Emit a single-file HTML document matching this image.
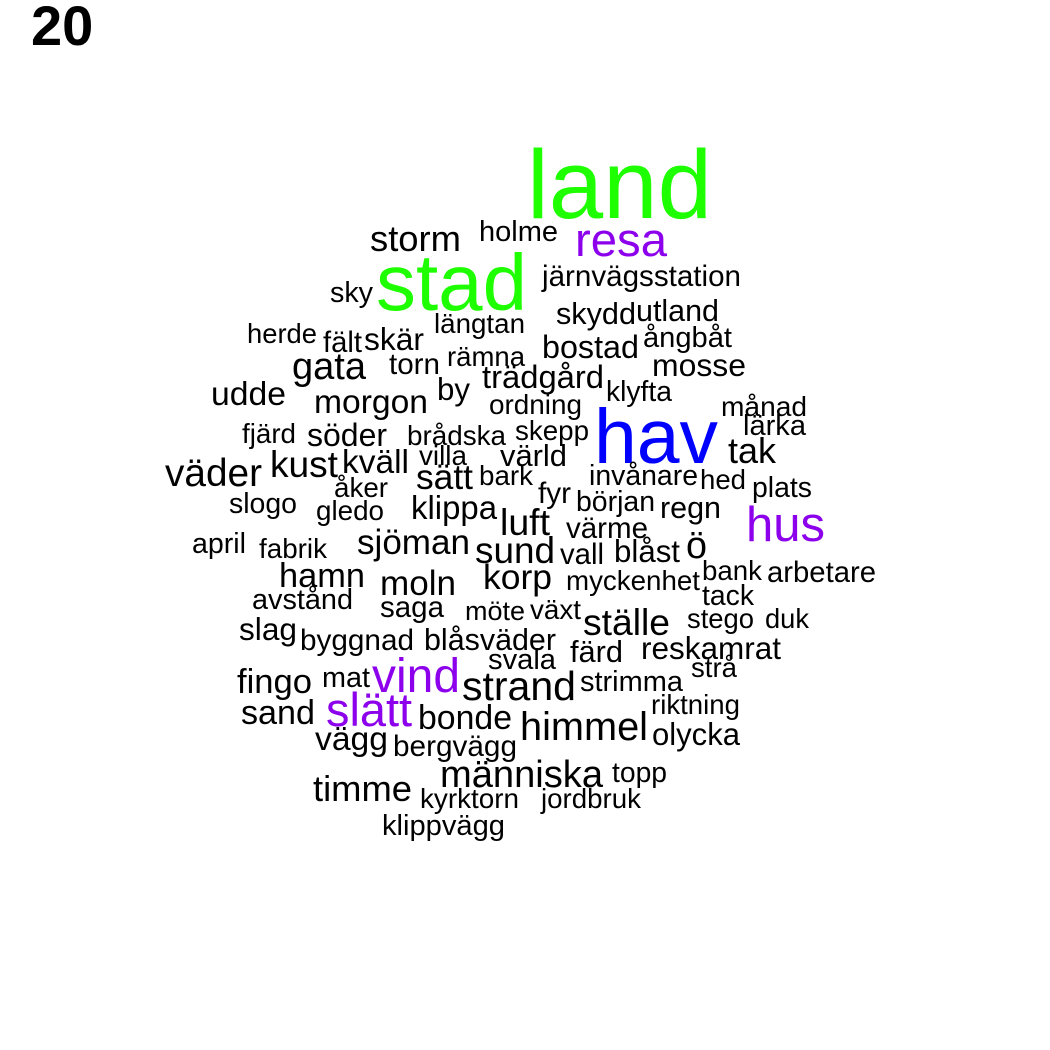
<!DOCTYPE html>
<html><head><meta charset="utf-8">
<style>
html,body{margin:0;padding:0;background:#fff;}
svg{display:block;font-family:"Liberation Sans",Arial,sans-serif;}
</style></head>
<body>
<svg id="cloud" width="1050" height="1050" viewBox="0 0 1050 1050" xmlns="http://www.w3.org/2000/svg">
<rect width="1050" height="1050" fill="#fff"/>
<text x="31" y="45" font-size="56" font-weight="bold" fill="#000">20</text>
<g id="words"></g>
</svg>
<script>
const words = ["land","stad","hav","resa","hus","vind","slätt","storm","holme","järnvägsstation","sky","skydd","utland","herde","fält","skär","längtan","ångbåt","bostad","gata","torn","rämna","mosse","trädgård","udde","morgon","by","ordning","klyfta","månad","lärka","fjärd","söder","brådska","skepp","tak","väder","kust","kväll","villa","värld","sätt","bark","invånare","hed","plats","åker","fyr","början","slogo","gledo","klippa","luft","regn","värme","april","fabrik","sjöman","sund","vall","blåst","ö","bank","arbetare","hamn","moln","korp","myckenhet","avstånd","tack","saga","möte","växt","ställe","stego","duk","slag","byggnad","blåsväder","svala","färd","reskamrat","fingo","mat","strand","strimma","strå","sand","bonde","himmel","riktning","olycka","vägg","bergvägg","människa","topp","timme","kyrktorn","jordbruk","klippvägg"];
const wordLeft = [527,376,594,575,746,372,326,370,479,542,330,556,636,247,323,364,434,643,542,292,389,447,652,482,211,314,437,489,606,721,743,242,307,407,515,728,165,270,342,419,500,416,479,589,700,752,334,538,576,229,316,411,500,660,566,192,259,357,475,560,614,686,702,767,279,380,483,566,252,702,380,465,530,583,687,765,239,300,424,488,570,641,237,322,462,580,691,241,418,520,651,652,315,393,440,612,313,420,541,382];
const wordRight = [712,527,718,667,825,460,412,461,558,741,373,636,719,317,362,424,525,732,639,366,440,525,746,604,286,428,470,582,672,807,806,296,387,506,589,776,262,338,409,467,567,473,533,698,746,812,388,571,655,297,384,497,550,721,648,246,327,470,555,604,680,707,762,876,365,456,552,700,353,754,444,525,581,670,754,809,297,414,556,556,623,781,312,370,576,683,737,315,512,648,740,740,388,517,603,667,412,519,641,505];
const wordBaseline = [218,310,463,256,541,692,726,251,241,286,302,324,321,343,352,350,333,347,358,379,374,366,376,388,405,413,400,414,401,416,435,443,446,445,440,463,486,477,473,465,466,489,485,485,489,497,497,503,511,513,520,519,535,518,538,553,558,554,563,564,562,558,580,582,587,595,589,590,609,605,617,620,619,635,628,628,640,650,650,669,662,659,693,687,700,691,677,724,729,740,714,745,750,756,787,782,801,808,808,835];
const colorMap = {"land":"#1eff00","stad":"#1eff00","hav":"#0000ff","resa":"#8c00ec","hus":"#8c00ec","vind":"#8c00ec","slätt":"#8c00ec"};
const g = document.getElementById('words');
const NS = 'http://www.w3.org/2000/svg';
for (let i = 0; i < words.length; i++) {
  const t = document.createElementNS(NS, 'text');
  
  
  t.textContent = words[i];
  t.setAttribute('font-size', '100');
  t.setAttribute('x', wordLeft[i]);
  t.setAttribute('y', wordBaseline[i]);
  t.setAttribute('fill', colorMap[words[i]] || '#000');
  g.appendChild(t);
  const w = t.getComputedTextLength();
  const target = wordRight[i] - wordLeft[i];
  const fs = w > 0 ? 100 * target / w : 28;
  t.setAttribute('font-size', fs.toFixed(2));
  t.setAttribute('textLength', target);
  t.setAttribute('lengthAdjust', 'spacingAndGlyphs');
}
</script>
</body></html>
